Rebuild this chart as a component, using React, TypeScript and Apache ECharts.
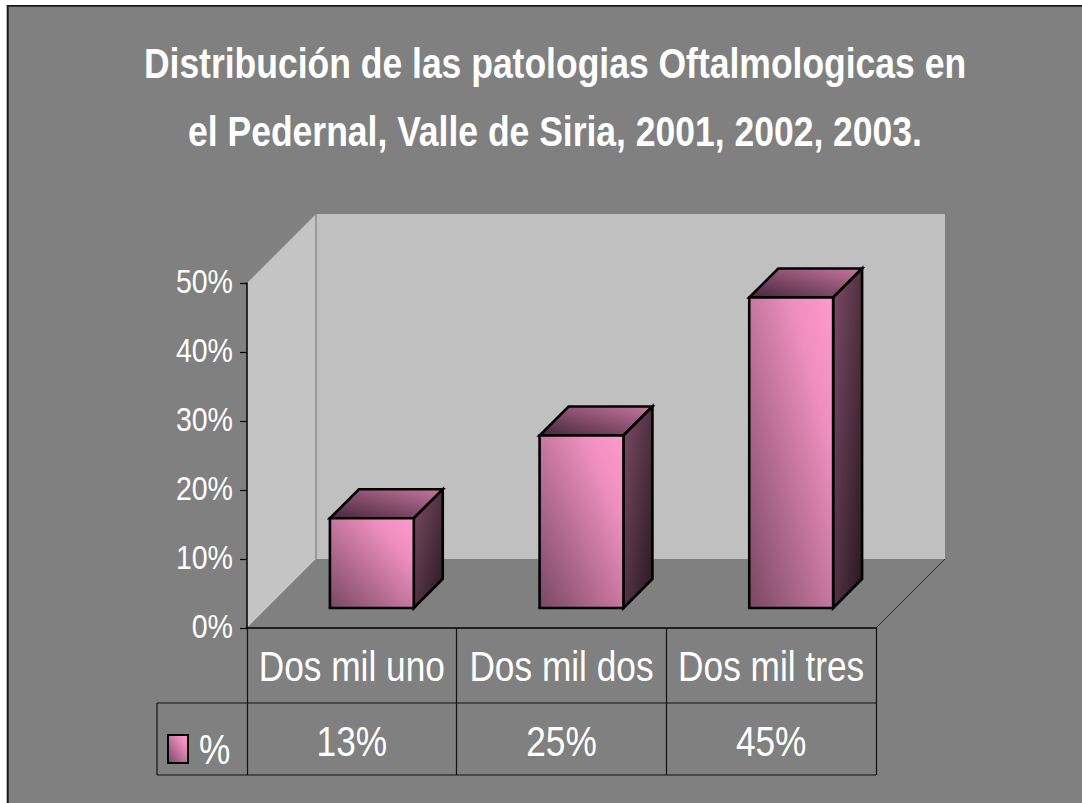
import React, { useEffect, useRef } from "react";
import * as echarts from "echarts";

const TITLE = "Distribución de las patologias Oftalmologicas en\nel Pedernal, Valle de Siria, 2001, 2002, 2003.";
const categories = ["Dos mil uno", "Dos mil dos", "Dos mil tres"];
const values = [0.13, 0.25, 0.45];
const seriesName = "%";
const yMax = 0.5;
const yInterval = 0.1;
const yTickValues = [0, 0.1, 0.2, 0.3, 0.4, 0.5];

const FONT = '"Liberation Sans", Arial, sans-serif';
const NARROW = 0.84;
const DEPTH = 69;

function pct(v: number) {
  return Math.round(v * 100) + "%";
}

export default function App() {
  const ref = useRef<HTMLDivElement>(null);
  useEffect(() => {
    document.body.style.margin = "0";
    const chart = echarts.init(ref.current!, undefined, { renderer: "svg" });

    const frontGrad = () =>
      new echarts.graphic.LinearGradient(0, 1, 1, 0, [
        { offset: 0, color: "#7A4863" },
        { offset: 0.75, color: "#EE8FBF" },
        { offset: 1, color: "#FF99CC" },
      ]);
    const topGrad = () =>
      new echarts.graphic.LinearGradient(0, 1, 1, 0, [
        { offset: 0, color: "#45263A" },
        { offset: 1, color: "#C8769E" },
      ]);
    const sideGrad = () =>
      new echarts.graphic.LinearGradient(0, 0, 1, 1, [
        { offset: 0, color: "#7C4B66" },
        { offset: 1, color: "#28171F" },
      ]);

    const narrowText = (x: number, y: number, text: string, size: number, align: string, extra: any = {}) => ({
      type: "text",
      x,
      y,
      scaleX: NARROW,
      style: {
        text,
        fill: "#fff",
        fontSize: size,
        fontFamily: FONT,
        align,
        verticalAlign: "middle",
        ...extra,
      },
    });

    const renderWalls = (params: any, api: any) => {
      const bw = api.size([1, 0])[0];
      const c0 = api.coord([0, 0]);
      const x0 = c0[0] - bw / 2;
      const x1 = x0 + bw * categories.length;
      const y0 = c0[1];
      const yT = api.coord([0, yMax])[1];
      const d = DEPTH;
      const tableLeft = x0 - 90;
      const row1 = y0 + 75;
      const row2 = y0 + 147;
      const children: any[] = [
        {
          type: "polygon",
          shape: { points: [[x0, yT], [x0 + d, yT - d], [x0 + d, y0 - d], [x0, y0]] },
          style: { fill: "#C4C4C4" },
        },
        {
          type: "rect",
          shape: { x: x0 + d, y: yT - d, width: x1 - x0, height: y0 - yT },
          style: { fill: "#C0C0C0" },
        },
        {
          type: "line",
          shape: { x1: x0 + d, y1: yT - d, x2: x0 + d, y2: y0 - d },
          style: { stroke: "#8C8C8C", lineWidth: 1.5 },
        },
        {
          type: "polygon",
          shape: { points: [[x0, y0], [x0 + d, y0 - d], [x1 + d, y0 - d], [x1, y0]] },
          style: { fill: "#808080" },
        },
        {
          type: "line",
          shape: { x1: x1, y1: y0, x2: x1 + d, y2: y0 - d },
          style: { stroke: "#2a2a2a", lineWidth: 1 },
        },
        {
          type: "line",
          shape: { x1: tableLeft, y1: row1, x2: x1, y2: row1 },
          style: { stroke: "#111", lineWidth: 1.2 },
        },
        {
          type: "line",
          shape: { x1: tableLeft, y1: row2, x2: x1, y2: row2 },
          style: { stroke: "#111", lineWidth: 1.2 },
        },
        {
          type: "line",
          shape: { x1: tableLeft, y1: row1, x2: tableLeft, y2: row2 },
          style: { stroke: "#111", lineWidth: 1.2 },
        },
        {
          type: "rect",
          shape: { x: tableLeft + 11, y: row1 + 32, width: 20, height: 28 },
          style: { fill: frontGrad(), stroke: "#000", lineWidth: 2 },
        },
        narrowText(tableLeft + 42, row1 + 46, seriesName, 42, "left"),
      ];
      yTickValues.forEach((v) => {
        const p = api.coord([0, v]);
        children.push(narrowText(x0 - 14, p[1] - 1, pct(v), 34, "right"));
      });
      return { type: "group", children };
    };

    const renderBar = (params: any, api: any) => {
      const idx = api.value(0);
      const val = api.value(1);
      const base = api.coord([idx, 0]);
      const top = api.coord([idx, val]);
      const bw = api.size([1, 0])[0];
      const w = bw * 0.4;
      const f = DEPTH * 0.29;
      const dd = DEPTH * 0.42;
      const L = base[0] - w / 2 + f;
      const R = L + w;
      const T = top[1] - f;
      const B = base[1] - f;
      const stroke = { stroke: "#000", lineWidth: 2.6, lineJoin: "miter" };
      return {
        type: "group",
        children: [
          {
            type: "polygon",
            shape: { points: [[L, T], [L + dd, T - dd], [R + dd, T - dd], [R, T]] },
            style: { fill: topGrad(), ...stroke },
          },
          {
            type: "polygon",
            shape: { points: [[R, T], [R + dd, T - dd], [R + dd, B - dd], [R, B]] },
            style: { fill: sideGrad(), ...stroke },
          },
          {
            type: "rect",
            shape: { x: L, y: T, width: w, height: B - T },
            style: { fill: frontGrad(), ...stroke },
          },
          narrowText(base[0], base[1] + 38, categories[idx], 42, "center"),
          narrowText(base[0], base[1] + 113, pct(val), 42, "center"),
        ],
      };
    };

    chart.setOption({
      animation: false,
      backgroundColor: "#808080",
      grid: { left: 247, right: 206, top: 283, bottom: 175 },
      xAxis: {
        type: "category",
        data: categories,
        z: 5,
        axisLine: { show: true, lineStyle: { color: "#000", width: 1.5 } },
        axisTick: { show: true, length: 147, lineStyle: { color: "#111", width: 1.2 } },
        axisLabel: { show: false },
        splitLine: { show: false },
      },
      yAxis: {
        type: "value",
        min: 0,
        max: yMax,
        interval: yInterval,
        z: 5,
        axisLine: { show: true, lineStyle: { color: "#000", width: 1.5 } },
        axisTick: { show: true, length: 7, lineStyle: { color: "#000", width: 1.2 } },
        axisLabel: { show: false },
        splitLine: { show: false },
      },
      graphic: [
        {
          type: "text",
          x: 555,
          y: 29,
          scaleX: 0.845,
          z: 100,
          style: {
            text: TITLE,
            fill: "#fff",
            fontSize: 42,
            fontWeight: "bold",
            fontFamily: FONT,
            lineHeight: 68,
            align: "center",
            verticalAlign: "top",
          },
        },
        { type: "rect", z: 100, shape: { x: 0, y: 0, width: 7, height: 803 }, style: { fill: "#fff" } },
        { type: "rect", z: 100, shape: { x: 0, y: 0, width: 1082, height: 5 }, style: { fill: "#fff" } },
        { type: "line", z: 100, shape: { x1: 7.7, y1: 5, x2: 7.7, y2: 803 }, style: { stroke: "#1a1a1a", lineWidth: 2 } },
        { type: "line", z: 100, shape: { x1: 7, y1: 5.8, x2: 1082, y2: 5.8 }, style: { stroke: "#1a1a1a", lineWidth: 1.8 } },
      ],
      series: [
        {
          type: "custom",
          name: "walls",
          z: 1,
          silent: true,
          data: [[0, 0]],
          encode: { x: 0, y: 1 },
          renderItem: renderWalls,
        },
        {
          type: "custom",
          name: seriesName,
          z: 3,
          data: values.map((v, i) => [i, v]),
          encode: { x: 0, y: 1 },
          itemStyle: { color: "#FF99CC", borderColor: "#000" },
          renderItem: renderBar,
        },
      ],
    });
    return () => chart.dispose();
  }, []);
  return <div ref={ref} style={{ width: 1082, height: 803 }} />;
}
